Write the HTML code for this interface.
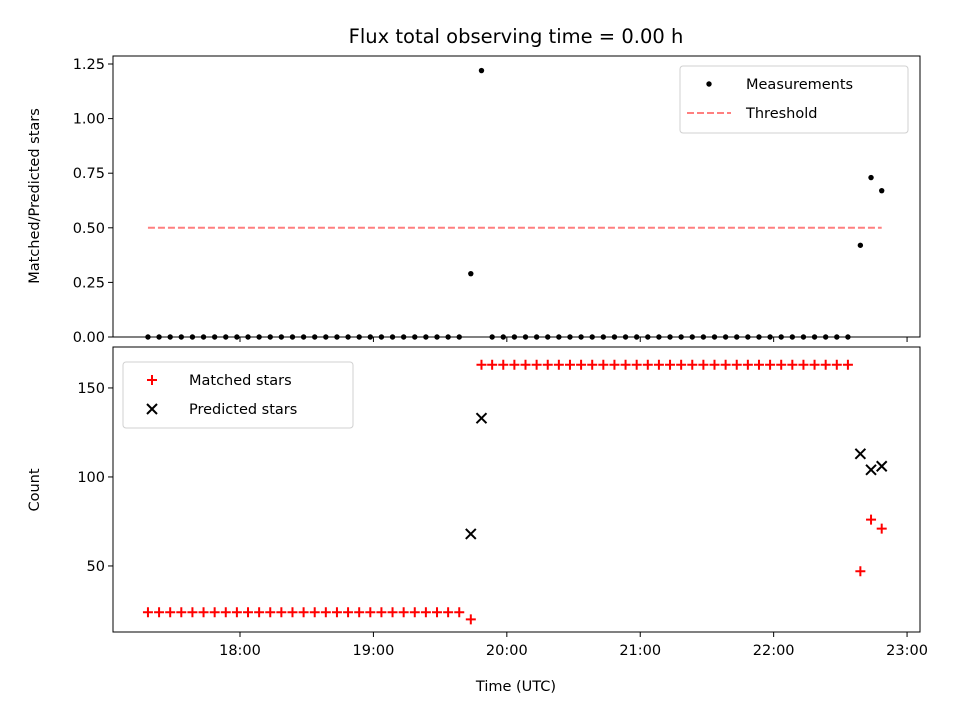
<!DOCTYPE html>
<html><head><meta charset="utf-8"><style>
body{margin:0;background:#fff}
svg{display:block;font-family:"DejaVu Sans","Liberation Sans",sans-serif}
</style></head><body>
<svg id="chart" width="960" height="720" xmlns="http://www.w3.org/2000/svg">
<rect width="960" height="720" fill="#fff"/>
<text x="516" y="43" font-size="19.5" text-anchor="middle">Flux total observing time = 0.00 h</text>
<g id="topPanel"></g>
<g id="botPanel"></g>
</svg>
<script>
// data (hours UTC)
const firstTimes = []; for (let i=0;i<29;i++) firstTimes.push(17.31 + i/12);
const secondTimes = []; for (let i=0;i<33;i++) secondTimes.push(19.89 + i/12);
const extraTimes = [19.73, 19.81, 22.65, 22.73, 22.81];
const extraRatio = [0.29, 1.22, 0.42, 0.73, 0.67];
const extraMatched = [20, 163, 47, 76, 71];
const extraPredicted = [68, 133, 113, 104, 106];
const firstMatched = 24, secondMatched = 163;
const threshold = 0.5, thrStart = 17.31, thrEnd = 22.81;
const xTicks = [18,19,20,21,22,23];
const xTickLabels = ["18:00","19:00","20:00","21:00","22:00","23:00"];
const topTicks = [0,0.25,0.5,0.75,1.0,1.25];
const topTickLabels = ["0.00","0.25","0.50","0.75","1.00","1.25"];
const botTicks = [50,100,150];

const NS="http://www.w3.org/2000/svg";
function mk(p,tag,a){const e=document.createElementNS(NS,tag);for(const k in a)e.setAttribute(k,a[k]);p.appendChild(e);return e;}
const L=113,R=920;
const X=t=>L+(t-17.048)/(23.097-17.048)*(R-L);
const TT=56,TB=337,BT=347,BB=632;
const YT=v=>TB-v/1.25*(TB-64);
const YB=v=>BB-(v-12.9)/(173-12.9)*(BB-BT);
const topG=document.getElementById('topPanel'), botG=document.getElementById('botPanel');

function axes(g,yt,yb,ticks,labels,ymap,showX,ylabel,ymid){
  ticks.forEach((v,i)=>{const y=ymap(v);
    const t=mk(g,'line',{x1:L-5,x2:L,y1:y,y2:y,stroke:'#000','stroke-width':1});
    
    
    const tx=mk(g,'text',{x:L-8,y:y+5,'font-size':14.5,'text-anchor':'end'});tx.textContent=labels[i];
    
    });
  xTicks.forEach((v,i)=>{const x=X(v);
    const t=mk(g,'line',{x1:x,x2:x,y1:yb,y2:yb+5,stroke:'#000','stroke-width':1});
    
    
    if(showX){const tx=mk(g,'text',{x:x,y:yb+23,'font-size':14.5,'text-anchor':'middle'});tx.textContent=xTickLabels[i];
    
    }});
  const yl=mk(g,'text',{x:0,y:0,'font-size':14.5,'text-anchor':'middle',transform:`translate(39,${ymid}) rotate(-90)`});yl.textContent=ylabel;
  
  
}
function frame(g,yt,yb){const r=mk(g,'rect',{x:L,y:yt,width:R-L,height:yb-yt,fill:'none',stroke:'#000','stroke-width':1});
  
  }

// top panel
const thr=mk(topG,'line',{x1:X(thrStart),x2:X(thrEnd),y1:YT(threshold),y2:YT(threshold),stroke:'#ff7f7f','stroke-width':2,'stroke-dasharray':'7,3'});


function dot(t,v){const c=mk(topG,'circle',{cx:X(t),cy:YT(v),r:2.7,fill:'#000'});
  
  }
firstTimes.forEach(t=>dot(t,0));secondTimes.forEach(t=>dot(t,0));
extraTimes.forEach((t,i)=>dot(t,extraRatio[i]));
frame(topG,TT,TB);
axes(topG,TT,TB,topTicks,topTickLabels,YT,false,'Matched/Predicted stars',196);

// bottom panel
function plus(t,v){const x=X(t),y=YB(v);const p=mk(botG,'path',{d:`M${x-5},${y}H${x+5}M${x},${y-5}V${y+5}`,stroke:'#f00','stroke-width':2});
  
  }
function cross(t,v){const x=X(t),y=YB(v);const p=mk(botG,'path',{d:`M${x-5},${y-5}L${x+5},${y+5}M${x-5},${y+5}L${x+5},${y-5}`,stroke:'#000','stroke-width':2});
  
  }
firstTimes.forEach(t=>plus(t,firstMatched));secondTimes.forEach(t=>plus(t,secondMatched));
extraTimes.forEach((t,i)=>{plus(t,extraMatched[i]);cross(t,extraPredicted[i]);});
frame(botG,BT,BB);
axes(botG,BT,BB,botTicks,botTicks.map(String),YB,true,'Count',490);
const xl=mk(botG,'text',{x:516,y:691,'font-size':14.5,'text-anchor':'middle'});xl.textContent='Time (UTC)';



// legends
function legend(g,x,y,w,h,items){const lg=mk(g,'g',{});
  
  
  mk(lg,'rect',{x:x,y:y,width:w,height:h,rx:3,fill:'#fff',stroke:'#ccc','stroke-width':1,opacity:0.9});
  items.forEach((it,i)=>{const cy=y+18+i*29;const mx=x+29;
    if(it.k==='dot')mk(lg,'circle',{cx:mx,cy:cy,r:2.7,fill:'#000'});
    if(it.k==='dash')mk(lg,'line',{x1:mx-22,x2:mx+22,y1:cy,y2:cy,stroke:'#ff7f7f','stroke-width':2,'stroke-dasharray':'7,3'});
    if(it.k==='plus')mk(lg,'path',{d:`M${mx-5},${cy}H${mx+5}M${mx},${cy-5}V${cy+5}`,stroke:'#f00','stroke-width':2});
    if(it.k==='cross')mk(lg,'path',{d:`M${mx-5},${cy-5}L${mx+5},${cy+5}M${mx-5},${cy+5}L${mx+5},${cy-5}`,stroke:'#000','stroke-width':2});
    const tx=mk(lg,'text',{x:x+66,y:cy+5,'font-size':14.5});tx.textContent=it.t;
    
    });}
legend(topG,680,66,228,67,[{k:'dot',t:'Measurements'},{k:'dash',t:'Threshold'}]);
legend(botG,123,362,230,66,[{k:'plus',t:'Matched stars'},{k:'cross',t:'Predicted stars'}]);
</script>
</body></html>
